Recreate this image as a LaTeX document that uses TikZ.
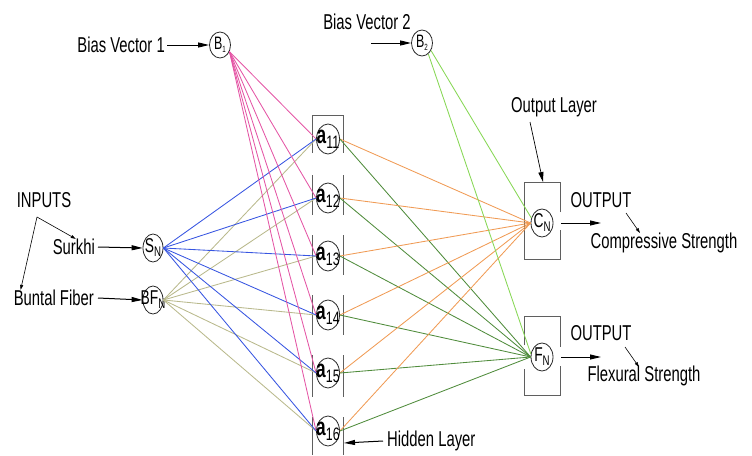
\documentclass[tikz,border=0pt]{standalone}
\usepackage{fontspec}
\setmainfont{Liberation Sans}[FakeStretch=0.69]
\usetikzlibrary{arrows.meta,shapes.geometric}

\definecolor{wblue}{RGB}{55,85,225}
\definecolor{wtan}{RGB}{185,185,140}
\definecolor{wpink}{RGB}{228,85,165}
\definecolor{worange}{RGB}{240,155,85}
\definecolor{wdkgreen}{RGB}{80,140,60}
\definecolor{wltgreen}{RGB}{135,215,85}
\definecolor{framegray}{RGB}{95,95,95}

% neuron label: main letter(s) with a lowered subscript, zero width so the
% ellipse keeps its own size
\newcommand\neulabel[5]{\makebox[0pt]{\fontsize{#1}{#1}\selectfont#2\raisebox{-#5}{\fontsize{#3}{#3}\selectfont#4}}}

\tikzset{
  lbl/.style={inner sep=0pt, font=\fontsize{21.5}{23}\selectfont},
  neuron/.style={ellipse, draw=black!85, line width=0.8pt, inner sep=0pt,
                 minimum width=20pt, minimum height=28pt},
  hid/.style={neuron, minimum width=23pt, minimum height=30pt},
  bigarrow/.style={-{Triangle[length=11pt,width=5pt]}, line width=1pt},
  smallarrow/.style={-{Triangle[length=5pt,width=3pt]}, line width=0.6pt},
  wire/.style={line width=0.85pt},
  boxline/.style={draw=framegray, line width=1pt}
}

\begin{document}
\begin{tikzpicture}[x=1pt,y=-1pt]
\useasboundingbox (0,0) rectangle (752,455);

% ---- neurons ----
\node[neuron, minimum width=21pt, minimum height=26pt] (b1) at (220,45) {\neulabel{18}{B}{9}{1}{3pt}};
\node[neuron, minimum width=21pt, minimum height=26pt] (b2) at (422,43) {\neulabel{18}{B}{9}{2}{3pt}};
\node[neuron] (sn) at (153,248) {\neulabel{20}{S}{14}{N}{4pt}};
\node[neuron] (bf) at (153,300) {\neulabel{20}{BF}{14}{N}{4pt}};
\foreach \i/\y in {11/139,12/198,13/256,14/315,15/373,16/431}
  \node[hid] (a\i) at (328,\y) {\neulabel{25}{\textbf{a}}{18}{\i}{5pt}};
\node[neuron, minimum width=22pt, minimum height=28pt] (cn) at (542,223) {\neulabel{20}{C}{14}{N}{4pt}};
\node[neuron, minimum width=22pt, minimum height=28pt] (fn) at (542,357) {\neulabel{20}{F}{14}{N}{4pt}};

% ---- text labels ----
\node[lbl, anchor=east] (bv1) at (165,45) {Bias Vector 1};
\node[lbl] (bv2) at (367,22) {Bias Vector 2};
\node[lbl] (inputs) at (44,200) {INPUTS};
\node[lbl, anchor=east] (surkhi) at (95,247) {Surkhi};
\node[lbl, anchor=east] (buntal) at (94,298) {Buntal Fiber};
\node[lbl] (outlayer) at (554,107) {Output Layer};
\node[lbl] (out1) at (601,200) {OUTPUT};
\node[lbl] (comp) at (664,243) {Compressive Strength};
\node[lbl] (out2) at (601,333) {OUTPUT};
\node[lbl] (flex) at (644,376) {Flexural Strength};
\node[lbl, anchor=west] (hidlab) at (387,441) {Hidden Layer};

% ---- free ends of pointers ----
\coordinate (bv2tail) at (371,43);
\coordinate (fork) at (37,217);
\coordinate (hidedge) at (344,443);
\coordinate (olstart) at (530,122);
\coordinate (ctop) at (543,182);
\coordinate (cout) at (601,223);
\coordinate (fout) at (601,357);
\coordinate (o1start) at (626,213);
\coordinate (o1end) at (640,233);
\coordinate (o2start) at (625,347);
\coordinate (o2end) at (639,367);

% ---- hidden layer frame (broken sides) ----
\draw[boxline] (312,153) -- (312,115) -- (343,115) -- (343,153);
\foreach \t/\b in {175/215,235/275,295/335,355/397,417/455}{
  \draw[boxline] (312,\t) -- (312,\b);
  \draw[boxline] (343,\t) -- (343,\b);
}

% ---- output layer frames ----
\draw[boxline] (560,212) -- (560,182) -- (524,182) -- (524,259) -- (560,259) -- (560,230);
\draw[boxline] (524,345) -- (524,316) -- (560,316) -- (560,347);
\draw[boxline] (524,369) -- (524,395) -- (560,395) -- (560,366);

% ---- weighted connections ----
\foreach \i in {11,...,16}{
  \draw[wire, wpink] (b1.-35) -- (a\i.west);
  \draw[wire, wtan] (bf.east) -- (a\i.west);
  \draw[wire, wblue] (sn.east) -- (a\i.west);
  \draw[wire, worange] (a\i.east) -- (cn.west);
  \draw[wire, wdkgreen] (a\i.east) -- (fn.west);
}
\draw[wire, wltgreen] (b2.-40) -- (cn.155);
\draw[wire, wltgreen] (b2.-60) -- (fn.165);

% ---- pointers ----
\draw[bigarrow] ([xshift=2pt]bv1.east) -- (b1.west);
\draw[bigarrow] (bv2tail) -- (b2.west);
\draw[bigarrow] ([xshift=3pt]surkhi.east) -- (sn.west);
\draw[bigarrow] ([xshift=4pt]buntal.east) -- (bf.west);
\draw[bigarrow] ([xshift=-4pt]hidlab.west) -- (hidedge);
\draw[bigarrow] ([xshift=8pt]cn.east) -- (cout);
\draw[bigarrow] ([xshift=8pt]fn.east) -- (fout);
\draw[-{Triangle[length=10pt,width=5pt]}, line width=0.7pt] (olstart) -- (ctop);
\draw[smallarrow] (fork) -- ([xshift=2pt]surkhi.north);
\draw[smallarrow] (fork) -- ([xshift=7pt]buntal.north west);
\draw[smallarrow] (o1start) -- (o1end);
\draw[smallarrow] (o2start) -- (o2end);
\end{tikzpicture}
\end{document}
